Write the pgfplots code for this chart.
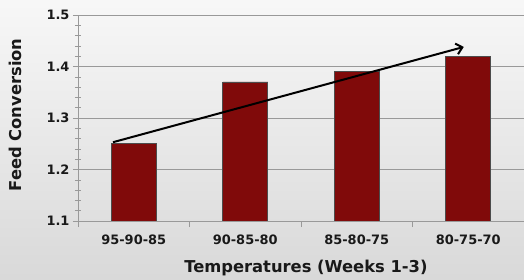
\documentclass[border=0pt]{standalone}
\usepackage{pgfplots}
\pgfplotsset{compat=1.18}
\usepackage{fontspec}
\setmainfont{DejaVu Sans}
\usetikzlibrary{arrows.meta}
\definecolor{barred}{RGB}{128,10,10}
\definecolor{txt}{RGB}{25,25,25}
\begin{document}
\begin{tikzpicture}
\fill[top color=white!97!black, bottom color=white!85!black] (0,0) rectangle (524bp,280bp);
\path[use as bounding box] (0,0) rectangle (524bp,280bp);
\begin{axis}[
  at={(78bp,59bp)}, anchor=south west,
  scale only axis, width=446bp, height=206bp,
  xmin=-0.5, xmax=3.5, ymin=1.1, ymax=1.5,
  axis x line*=bottom, axis y line*=left,
  axis line style={gray!80, line width=0.8bp},
  xtick={0,1,2,3},
  xticklabels={95-90-85,90-85-80,85-80-75,80-75-70},
  major x tick style={draw=none},
  minor xtick={-0.5,0.5,1.5,2.5,3.5},
  xtick align=outside,
  ytick={1.1,1.2,1.3,1.4,1.5},
  minor y tick num=4,
  ytick align=center,
  major tick length=10bp, minor tick length=6bp,
  every tick/.style={gray!80, line width=0.6bp},
  ymajorgrids,
  major grid style={gray!80, line width=0.9bp},
  yticklabel style={/pgf/number format/fixed, /pgf/number format/precision=1, /pgf/number format/fixed zerofill},
  /pgf/number format/assume math mode=true,
  tick label style={font=\fontsize{13}{15}\selectfont\bfseries, text=txt},
  ylabel={Feed Conversion},
  xlabel={Temperatures (Weeks 1-3)},
  label style={font=\fontsize{16.4}{19}\selectfont\bfseries, text=txt},
  ylabel style={at={(axis description cs:-0.141,0.515)}, anchor=center},
  xlabel style={at={(axis description cs:0.511,-0.228)}, anchor=center},
]
\addplot[ybar, bar width=45bp, fill=barred, draw=black!70, line width=0.6bp] coordinates {(0,1.25)(1,1.37)(2,1.39)(3,1.42)};
\addplot[black, line width=2bp, -{Straight Barb[length=6bp,width=11bp]}] coordinates {(-0.186,1.253)(2.96,1.438)};
\end{axis}
\end{tikzpicture}
\end{document}
